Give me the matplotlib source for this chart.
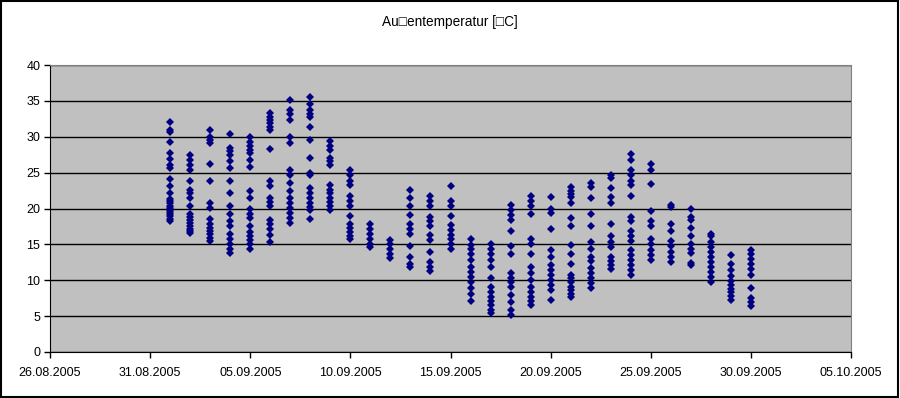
from datetime import date, timedelta

import numpy as np
import matplotlib
matplotlib.use("Agg")
import matplotlib.pyplot as plt
import matplotlib.dates as mdates
from matplotlib.patches import Rectangle


TITLE = "Au\u25a1entemperatur [\u25a1C]"
FIRST_DAY = date(2005, 9, 1)

# hourly readings per day (°C), 01.09. - 30.09.2005
temps = [
    [32.0, 31.0, 30.7, 29.3, 27.7, 26.9, 26.0, 25.6, 24.1, 23.1, 22.2, 21.3, 21.0, 20.7, 20.4, 20.1, 19.8, 19.5, 19.2, 18.9, 18.6, 18.3],
    [27.5, 26.7, 26.0, 25.3, 23.9, 22.6, 22.1, 21.5, 20.3, 19.2, 18.8, 18.4, 18.0, 17.6, 17.2, 16.9, 16.6],
    [31.0, 30.0, 29.6, 29.1, 26.25, 23.8, 20.7, 20.1, 18.6, 17.8, 17.3, 16.9, 16.4, 15.9, 15.5],
    [30.4, 28.4, 28.0, 27.5, 26.6, 25.6, 23.9, 22.2, 20.3, 19.2, 18.2, 17.5, 16.4, 15.7, 15.0, 14.3, 13.8],
    [30.0, 29.2, 28.7, 28.2, 27.7, 26.8, 25.8, 22.4, 21.5, 20.0, 19.3, 18.7, 17.5, 16.7, 16.2, 15.6, 15.0, 14.4],
    [33.3, 32.8, 32.4, 31.9, 31.4, 30.9, 28.3, 23.9, 23.2, 21.5, 20.9, 20.3, 18.4, 17.8, 17.1, 16.3, 15.3],
    [35.1, 33.7, 33.2, 32.4, 30.0, 29.1, 25.4, 24.7, 23.6, 22.4, 21.5, 20.8, 20.1, 19.4, 18.7, 18.0],
    [35.6, 34.6, 33.7, 33.2, 32.8, 31.4, 29.5, 27.0, 25.0, 24.6, 22.9, 22.2, 21.5, 20.8, 20.2, 19.8, 18.6],
    [29.4, 28.7, 28.1, 27.0, 26.6, 26.0, 23.3, 22.6, 22.1, 21.5, 20.9, 20.3, 19.8],
    [25.3, 24.6, 23.8, 23.3, 21.8, 21.1, 20.3, 19.0, 17.9, 17.3, 16.7, 16.2, 15.7],
    [17.9, 17.2, 16.5, 15.8, 15.1, 14.7],
    [15.6, 15.0, 14.4, 13.7, 13.1],
    [22.6, 21.4, 20.3, 19.1, 17.9, 17.2, 16.4, 14.8, 13.3, 12.3, 11.8],
    [21.7, 21.0, 20.3, 18.8, 18.2, 17.5, 16.3, 15.6, 13.9, 12.6, 11.9, 11.3],
    [23.1, 21.0, 20.3, 19.0, 17.7, 17.0, 16.3, 15.7, 15.1, 14.4],
    [15.7, 14.9, 14.3, 13.7, 12.8, 11.9, 11.2, 10.5, 9.8, 8.9, 8.1, 7.1],
    [15.1, 14.3, 13.7, 12.8, 11.9, 10.3, 9.1, 8.4, 7.7, 7.1, 6.5, 5.9, 5.5],
    [20.5, 19.8, 19.1, 18.4, 16.8, 14.8, 13.7, 11.0, 10.3, 9.7, 9.1, 8.0, 6.9, 5.8, 5.1],
    [21.7, 21.0, 20.3, 19.2, 15.8, 15.0, 13.7, 11.9, 11.0, 10.1, 9.1, 8.4, 7.7, 7.1, 6.5],
    [21.6, 20.0, 19.4, 17.1, 14.2, 13.2, 12.1, 11.4, 10.7, 10.0, 9.3, 8.6, 7.2],
    [23.0, 22.5, 22.0, 21.6, 20.8, 18.7, 17.6, 14.9, 13.7, 12.3, 10.7, 10.3, 9.8, 9.1, 8.6, 8.1, 7.6],
    [23.5, 23.0, 21.4, 19.2, 17.6, 15.4, 14.3, 13.3, 12.7, 11.7, 11.0, 10.3, 9.6, 8.9],
    [24.7, 24.2, 22.8, 21.6, 20.7, 17.8, 16.2, 15.4, 14.7, 13.3, 12.7, 12.1, 11.6],
    [27.6, 26.7, 25.3, 24.7, 23.8, 23.3, 21.7, 18.8, 18.2, 16.8, 16.1, 15.5, 14.2, 13.5, 12.8, 12.1, 11.4, 10.7],
    [26.2, 25.4, 23.4, 19.7, 18.2, 17.5, 15.7, 15.0, 14.2, 13.5, 12.8],
    [20.5, 20.2, 17.9, 16.8, 15.5, 14.8, 14.0, 13.3, 12.6],
    [19.9, 18.8, 18.4, 17.3, 16.2, 15.0, 14.4, 13.8, 12.4, 12.1],
    [16.5, 16.1, 15.4, 14.7, 14.0, 13.3, 12.6, 11.9, 11.2, 10.5, 9.8],
    [13.5, 12.3, 11.4, 10.6, 9.9, 9.3, 8.8, 8.4, 7.8, 7.2],
    [14.2, 13.6, 13.0, 12.3, 11.5, 10.7, 8.9, 7.5, 7.0, 6.4],
]

days = [FIRST_DAY + timedelta(days=i) for i in range(len(temps))]
xs = [d for d, t in zip(days, temps) for _ in t]
ys = [v for t in temps for v in t]

W, H = 900, 398
fig = plt.figure(figsize=(W / 100, H / 100), dpi=100)
plt.rcParams["font.family"] = ["Liberation Sans", "DejaVu Sans"]

ax = fig.add_axes([50 / W, (H - 352) / H, (851 - 50) / W, (352 - 65) / H])
ax.set_facecolor("#c0c0c0")
ax.set_axisbelow(True)
ax.grid(axis="y", color="black", linewidth=1)

ax.plot(xs, ys, linestyle="none", marker="D", markersize=4.3, color="#000080", markeredgewidth=0)

ax.set_xlim(date(2005, 8, 26), date(2005, 10, 5))
ax.set_ylim(0, 40)
ax.set_yticks(np.arange(0, 41, 5))
ax.set_xticks([date(2005, 8, 26) + timedelta(days=5 * i) for i in range(9)])
ax.xaxis.set_major_formatter(mdates.DateFormatter("%d.%m.%Y"))

ax.tick_params(axis="both", direction="out", length=4, width=1, labelsize=9, colors="black", pad=3)
ax.tick_params(axis="x", pad=7)
for s in ("top", "right"):
    ax.spines[s].set_color("#808080")
for s in ("left", "bottom"):
    ax.spines[s].set_color("black")

fig.text(450 / W, 1 - 22 / H, TITLE, ha="center", va="center", fontsize=9.8)

# outer chart frame
fig.patches.append(Rectangle((0.5 / W, 1.5 / H), (W - 2.5) / W, (H - 2.5) / H,
                             transform=fig.transFigure, fill=False, edgecolor="black", linewidth=1.5))

fig.savefig("out.png", dpi=100)
